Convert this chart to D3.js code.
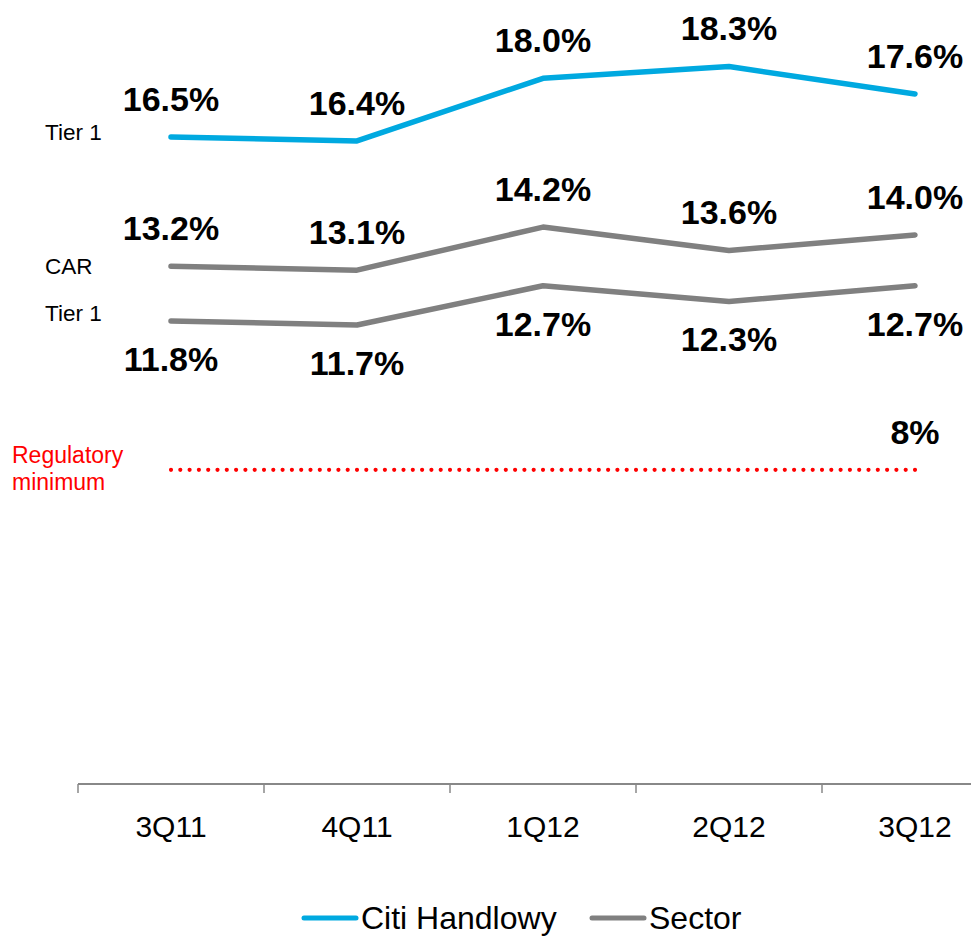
<!DOCTYPE html>
<html>
<head>
<meta charset="utf-8">
<script src="https://cdn.jsdelivr.net/npm/d3@7"></script>
<style>
  html, body { margin: 0; padding: 0; background: #fff; }
  svg { display: block; font-family: Arial, "Liberation Sans", Helvetica, sans-serif; }
</style>
</head>
<body>
<svg id="chart" width="971" height="939"></svg>
<script>
// Capital adequacy, quarterly (%)
const quarters = ["3Q11", "4Q11", "1Q12", "2Q12", "3Q12"];
const citiTier1 = [16.5, 16.4, 18.0, 18.3, 17.6];
const sectorCAR = [13.2, 13.1, 14.2, 13.6, 14.0];
const sectorTier1 = [11.8, 11.7, 12.7, 12.3, 12.7];
const regulatoryMinimum = 8;
const legendItems = ["Citi Handlowy", "Sector"];

const BLUE = "#00A9E0";
const GREY = "#808080";
const RED = "#FF0000";

const svg = d3.select("#chart");

const x = d3.scaleBand().domain(quarters).range([78, 1008]).padding(0);
const y = d3.scaleLinear().domain([0, 20]).range([783, 0]);
const cx = q => x(q) + x.bandwidth() / 2;

// Category axis: baseline plus tick marks on band boundaries
const axisY = y(0) + 1;
const axis = svg.append("g");
axis.append("line")
  .attr("x1", x.range()[0]).attr("x2", x.range()[1])
  .attr("y1", axisY).attr("y2", axisY)
  .attr("stroke", "#888").attr("stroke-width", 2);
axis.selectAll("line.tick")
  .data(quarters.concat(["end"]))
  .enter().append("line").attr("class", "tick")
  .attr("x1", (d, i) => x.range()[0] + i * x.step())
  .attr("x2", (d, i) => x.range()[0] + i * x.step())
  .attr("y1", axisY).attr("y2", axisY + 9)
  .attr("stroke", "#888").attr("stroke-width", 1.5);
axis.selectAll("text")
  .data(quarters)
  .enter().append("text")
  .attr("x", d => cx(d))
  .attr("y", axisY + 42)
  .attr("dy", "0.35em")
  .attr("text-anchor", "middle")
  .attr("font-size", 30)
  .attr("fill", "#000")
  .text(d => d);

// Regulatory minimum dotted line (dot spacing fitted so both ends carry a dot)
const regX1 = cx(quarters[0]);
const regX2 = cx(quarters[quarters.length - 1]);
const regLen = regX2 - regX1;
const regGap = regLen / Math.round(regLen / 9.3);
svg.append("line")
  .attr("x1", regX1).attr("x2", regX2 + 0.5)
  .attr("y1", y(regulatoryMinimum)).attr("y2", y(regulatoryMinimum))
  .attr("stroke", RED).attr("stroke-width", 4.2)
  .attr("stroke-linecap", "round")
  .attr("stroke-dasharray", `0 ${regGap}`);
svg.append("text")
  .attr("x", regX2)
  .attr("y", y(regulatoryMinimum) - 38)
  .attr("dy", "0.35em")
  .attr("text-anchor", "middle")
  .attr("font-size", 34).attr("font-weight", "bold")
  .text(regulatoryMinimum + "%");
const regLabel = svg.append("text")
  .attr("x", 12).attr("y", y(regulatoryMinimum) - 7)
  .attr("font-size", 23).attr("fill", RED);
regLabel.append("tspan").attr("x", 12).text("Regulatory");
regLabel.append("tspan").attr("x", 12).attr("dy", 27).text("minimum");

// Series lines
const line = d3.line()
  .x((d, i) => cx(quarters[i]))
  .y(d => y(d));

const series = [
  { values: citiTier1, color: BLUE, labelPos: "above", name: "Tier 1", nameDy: 3 },
  { values: sectorCAR, color: GREY, labelPos: "above", name: "CAR", nameDy: 8 },
  { values: sectorTier1, color: GREY, labelPos: "below", name: "Tier 1", nameDy: 0 }
];

series.forEach(s => {
  svg.append("path")
    .datum(s.values)
    .attr("d", line)
    .attr("fill", "none")
    .attr("stroke", s.color)
    .attr("stroke-width", 5.5)
    .attr("stroke-linecap", "round")
    .attr("stroke-linejoin", "round");

  svg.append("g").selectAll("text")
    .data(s.values)
    .enter().append("text")
    .attr("x", (d, i) => cx(quarters[i]))
    .attr("y", d => y(d) + (s.labelPos === "above" ? -38 : 38))
    .attr("dy", "0.35em")
    .attr("text-anchor", "middle")
    .attr("font-size", 34)
    .attr("font-weight", "bold")
    .attr("fill", "#000")
    .text(d => d.toFixed(1) + "%");

  svg.append("text")
    .attr("x", 45)
    .attr("y", y(s.values[0]) + s.nameDy)
    .attr("font-size", 22.5)
    .attr("fill", "#000")
    .text(s.name);
});

// Legend
const legend = svg.append("g").attr("transform", "translate(0,918)");
const legendX = [302, 590];
const legendColors = [BLUE, GREY];
legendItems.forEach((name, i) => {
  legend.append("line")
    .attr("x1", legendX[i] + 2).attr("x2", legendX[i] + 54)
    .attr("y1", 0).attr("y2", 0)
    .attr("stroke", legendColors[i]).attr("stroke-width", 5)
    .attr("stroke-linecap", "round");
  legend.append("text")
    .attr("x", legendX[i] + 59)
    .attr("y", 0)
    .attr("dy", "0.35em")
    .attr("font-size", 32)
    .attr("fill", "#000")
    .text(name);
});
</script>
</body>
</html>
